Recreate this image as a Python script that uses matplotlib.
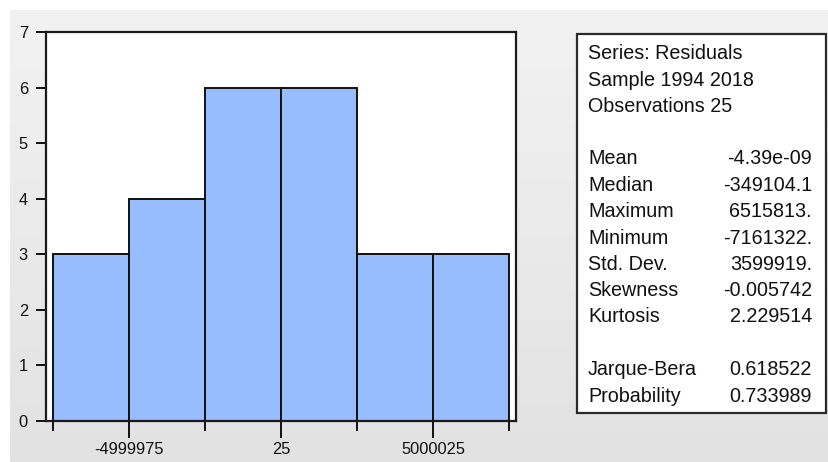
import numpy as np
import matplotlib
matplotlib.use("Agg")
import matplotlib.pyplot as plt
from matplotlib.patches import Rectangle

# Residual histogram data
bin_edges = [-7499975, -4999975, -2499975, 25, 2500025, 5000025, 7500025]
counts = [3, 4, 6, 6, 3, 3]
xtick_values = [-4999975, 25, 5000025]
xtick_labels = ["-4999975", "25", "5000025"]
ytick_values = [0, 1, 2, 3, 4, 5, 6, 7]

# Summary statistics panel
header_lines = ["Series: Residuals", "Sample 1994 2018", "Observations 25"]
stat_names = ["Mean", "Median", "Maximum", "Minimum", "Std. Dev.",
              "Skewness", "Kurtosis"]
stat_values = ["-4.39e-09", "-349104.1", "6515813.", "-7161322.",
               "3599919.", "-0.005742", "2.229514"]
test_names = ["Jarque-Bera", "Probability"]
test_values = ["0.618522", "0.733989"]

W, H = 829, 462
plt.rcParams["font.family"] = ["Liberation Sans", "DejaVu Sans"]

fig = plt.figure(figsize=(W / 100, H / 100), dpi=100, facecolor="white")


def fx(px):
    return px / W


def fy(py):
    return 1 - py / H


# Grey panel with a soft vertical gradient
bg = fig.add_axes([fx(10), 0, fx(828) - fx(10), fy(10)], zorder=-10)
grad = np.linspace(0, 1, 256).reshape(-1, 1)
top = np.array([0.949, 0.949, 0.949])
bot = np.array([0.886, 0.886, 0.886])
img = top + (bot - top) * grad[..., None]
bg.imshow(img, aspect="auto", extent=[0, 1, 0, 1])
bg.set_axis_off()

# Histogram axes
ax = fig.add_axes([fx(46), fy(421), fx(516) - fx(46), fy(32) - fy(421)])
ax.set_facecolor("white")
edges = np.array(bin_edges, dtype=float)
ax.bar(edges[:-1], counts, width=np.diff(edges), align="edge",
       color="#97BDFF", edgecolor="#111111", linewidth=1.4, zorder=2)

pad = (edges[-1] - edges[0]) * 7 / 456
ax.set_xlim(edges[0] - pad, edges[-1] + pad)
ax.set_ylim(0, 7)

ax.set_yticks(ytick_values)
ax.set_yticklabels([str(v) for v in ytick_values])
ax.set_xticks(xtick_values)
ax.set_xticklabels(xtick_labels)
minor_edges = [e for e in bin_edges if e not in xtick_values]
ax.set_xticks(minor_edges, minor=True)

ax.tick_params(axis="both", which="major", direction="out", labelsize=11.8,
               colors="#111111", width=1.4, pad=3)
ax.tick_params(axis="y", which="major", length=7, pad=6)
ax.tick_params(axis="x", which="major", length=12, pad=3)
ax.tick_params(axis="x", which="minor", length=7, width=1.4, colors="#111111")
ax.tick_params(top=False, right=False, which="both")

for s in ax.spines.values():
    s.set_linewidth(1.6)
    s.set_color("#1a1a1a")

# Statistics box
bx0, by0, bx1, by1 = 577, 34, 826, 413
fig.patches.append(Rectangle((fx(bx0), fy(by1)), fx(bx1) - fx(bx0),
                             fy(by0) - fy(by1), transform=fig.transFigure,
                             facecolor="white", edgecolor="#2a2a2a",
                             linewidth=1.6, zorder=1))

fs = 14.2
label_x = 588
value_x = 812
color = "#111111"
cap_half = 6.5  # half cap-height in pixels, to place rows by their visual centre


def row(x, y, text, ha):
    fig.text(fx(x), fy(y + cap_half), text, fontsize=fs, color=color,
             ha=ha, va="baseline", zorder=3)


header_y = [52.5, 79, 105]
for text, y in zip(header_lines, header_y):
    row(label_x, y, text, "left")

stat_y = [158, 184.5, 211, 237, 263.5, 289.5, 316]
for name, val, y in zip(stat_names, stat_values, stat_y):
    row(label_x, y, name, "left")
    row(value_x, y, val, "right")

test_y = [368.5, 395]
for name, val, y in zip(test_names, test_values, test_y):
    row(label_x, y, name, "left")
    row(value_x, y, val, "right")

fig.savefig("out.png", dpi=100, facecolor=fig.get_facecolor())
